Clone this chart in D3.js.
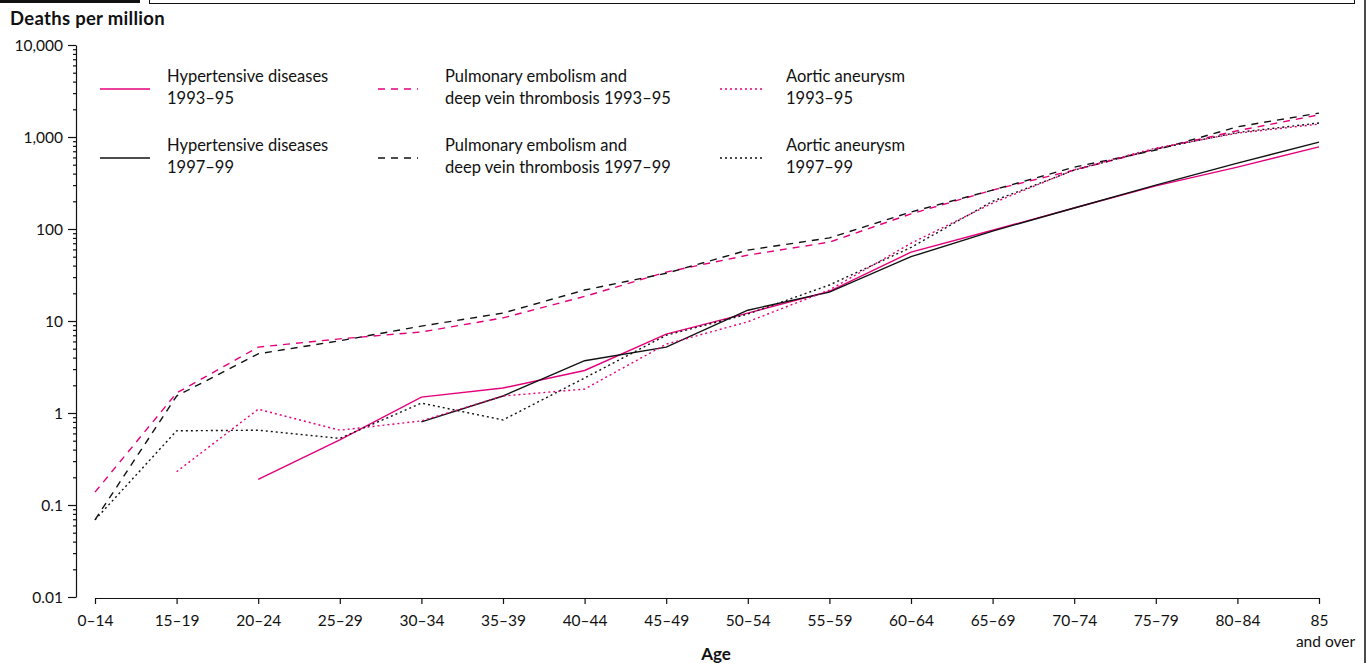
<!DOCTYPE html>
<html lang="en">
<head>
  <meta charset="UTF-8">
  <title>Deaths per million by age</title>
  <script src="https://d3js.org/d3.v7.min.js"></script>
  <style>
    body {
      margin: 0;
      background: #fff;
      font-family: 'Lato', 'Open Sans', sans-serif;
    }
    svg text { fill: #111; }
    .axis path, .axis line { stroke: #111; stroke-width: 1.2; }
    .axis text { font-size: 15.5px; font-family: 'Lato', sans-serif; }
  </style>
</head>
<body>
  <script>
    // age bands on the x axis
    var ages = ["0–14", "15–19", "20–24", "25–29", "30–34", "35–39", "40–44", "45–49",
                "50–54", "55–59", "60–64", "65–69", "70–74", "75–79", "80–84", "85"];

    // deaths per million, null = not shown
    var hyper9395 = [null, null, 0.19, 0.51, 1.49, 1.87, 2.9, 7.2, 12.2, 21, 56, 97, 169, 294, 470, 780];
    var hyper9799 = [null, null, null, null, 0.8, 1.53, 3.7, 5.2, 13.1, 20.6, 50, 95, 169, 300, 520, 880];
    var pe9395 = [0.138, 1.65, 5.2, 6.4, 7.6, 10.8, 18.5, 34, 52, 72, 146, 265, 437, 740, 1170, 1740];
    var pe9799 = [0.069, 1.53, 4.4, 6.1, 8.8, 12.2, 21.7, 33, 59, 80, 153, 265, 470, 720, 1290, 1820];
    var aa9395 = [null, 0.23, 1.1, 0.65, 0.82, 1.53, 1.82, 5.6, 9.8, 21.7, 70, 191, 440, 760, 1100, 1380];
    var aa9799 = [0.069, 0.64, 0.65, 0.53, 1.28, 0.84, 2.4, 7.0, 11.9, 24.6, 63, 200, 437, 740, 1120, 1420];

    var yTicks = [0.01, 0.1, 1, 10, 100, 1000, 10000];
    var yTickLabels = ["0.01", "0.1", "1", "10", "100", "1,000", "10,000"];

    var pink = "#e4007c";
    var dashed = "7,6";
    var dotted = "2,3";

    var series = [
      { name: ["Hypertensive diseases", "1993–95"], values: hyper9395, color: pink, dash: null, col: 0, row: 0 },
      { name: ["Hypertensive diseases", "1997–99"], values: hyper9799, color: "#111", dash: null, col: 0, row: 1 },
      { name: ["Pulmonary embolism and", "deep vein thrombosis 1993–95"], values: pe9395, color: pink, dash: dashed, col: 1, row: 0 },
      { name: ["Pulmonary embolism and", "deep vein thrombosis 1997–99"], values: pe9799, color: "#111", dash: dashed, col: 1, row: 1 },
      { name: ["Aortic aneurysm", "1993–95"], values: aa9395, color: pink, dash: dotted, col: 2, row: 0 },
      { name: ["Aortic aneurysm", "1997–99"], values: aa9799, color: "#111", dash: dotted, col: 2, row: 1 }
    ];

    var width = 1372, height = 663;
    var svg = d3.select("body").append("svg")
      .attr("width", width)
      .attr("height", height);

    // header strip
    svg.append("rect").attr("x", 0).attr("y", 0).attr("width", 140).attr("height", 3).attr("fill", "#111");
    svg.append("rect").attr("x", 149.5).attr("y", -5).attr("width", 1205).attr("height", 8.5)
      .attr("fill", "none").attr("stroke", "#111").attr("stroke-width", 1);
    svg.append("line").attr("x1", 1365).attr("x2", 1365).attr("y1", 0).attr("y2", height)
      .attr("stroke", "#111").attr("stroke-width", 1.5);

    var x = d3.scalePoint().domain(ages).range([95, 1319]);
    var y = d3.scaleLog().domain([0.01, 10000]).range([597, 45]);

    // y axis with minor ticks
    var minor = [];
    for (var p = -2; p < 4; p++) {
      for (var k = 2; k <= 9; k++) minor.push(k * Math.pow(10, p));
    }
    svg.append("g").attr("class", "axis")
      .attr("transform", "translate(76,0)")
      .call(d3.axisLeft(y).tickValues(minor).tickSize(3).tickSizeOuter(0).tickFormat(""))
      .select(".domain").remove();

    var yAxis = svg.append("g").attr("class", "axis")
      .attr("transform", "translate(76,0)")
      .call(d3.axisLeft(y).tickValues(yTicks).tickSize(8).tickSizeOuter(0)
        .tickFormat(function(d, i) { return yTickLabels[i]; }));
    yAxis.selectAll("text").attr("x", -13).attr("dy", "0.36em");

    // x axis
    var xAxis = svg.append("g").attr("class", "axis")
      .attr("transform", "translate(0,598)")
      .call(d3.axisBottom(x).tickSize(6).tickSizeOuter(0));
    xAxis.selectAll("text").attr("y", 17);
    xAxis.selectAll(".tick").filter(function(d) { return d === "85"; })
      .append("text").attr("x", 6).attr("y", 38).attr("dy", "0.71em")
      .attr("fill", "#111").attr("text-anchor", "middle").style("font-size", "15.5px")
      .text("and over");

    // titles
    svg.append("text").attr("x", 10).attr("y", 25)
      .style("font-size", "18.5px").style("font-weight", "700").style("letter-spacing", "0.3px")
      .text("Deaths per million");
    svg.append("text").attr("x", 716).attr("y", 660).attr("text-anchor", "middle")
      .style("font-size", "17px").style("font-weight", "700").text("Age");

    // lines
    var line = d3.line()
      .defined(function(d) { return d != null; })
      .x(function(d, i) { return x(ages[i]); })
      .y(function(d) { return y(d); });

    svg.append("g").selectAll("path")
      .data(series)
      .join("path")
      .attr("d", function(d) { return line(d.values); })
      .attr("fill", "none")
      .attr("stroke", function(d) { return d.color; })
      .attr("stroke-width", 1.4)
      .attr("stroke-dasharray", function(d) { return d.dash; });

    // legend
    var colX = [100, 378, 720];
    var colW = [50, 40, 42];
    var textX = [167, 445, 786];
    var rowY = [89, 158];

    var leg = svg.append("g").selectAll("g")
      .data(series)
      .join("g");

    leg.append("line")
      .attr("x1", function(d) { return colX[d.col]; })
      .attr("x2", function(d) { return colX[d.col] + colW[d.col]; })
      .attr("y1", function(d) { return rowY[d.row]; })
      .attr("y2", function(d) { return rowY[d.row]; })
      .attr("stroke", function(d) { return d.color; })
      .attr("stroke-width", 1.4)
      .attr("stroke-dasharray", function(d) { return d.dash; });

    leg.each(function(d) {
      var g = d3.select(this);
      d.name.forEach(function(t, j) {
        g.append("text")
          .attr("x", textX[d.col])
          .attr("y", rowY[d.row] - 7 + j * 22)
          .style("font-size", "16.5px")
          .text(t);
      });
    });
  </script>
</body>
</html>
